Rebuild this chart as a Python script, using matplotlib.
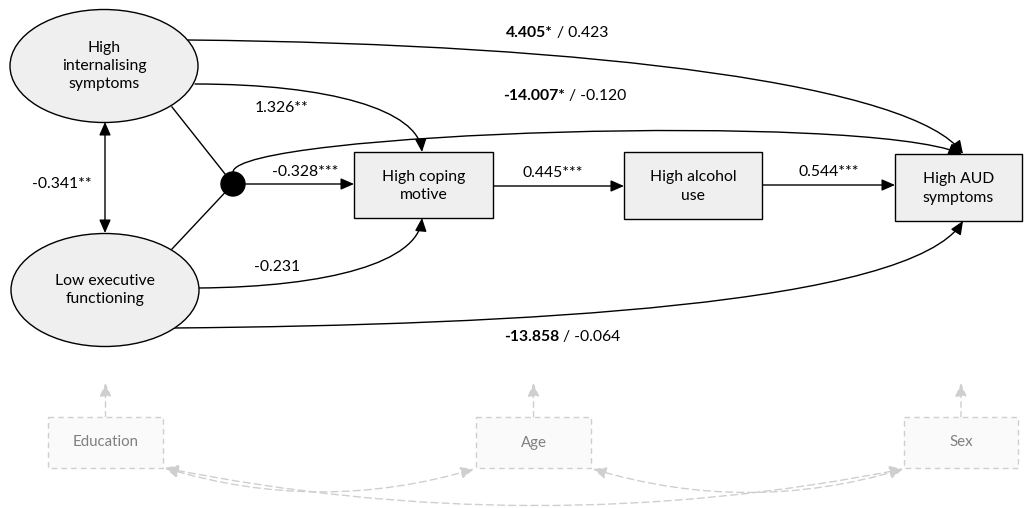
import matplotlib
matplotlib.use("Agg")
import matplotlib.pyplot as plt
from matplotlib.patches import Ellipse, Rectangle, Circle, FancyArrowPatch
from matplotlib.path import Path

plt.rcParams['font.family'] = ['Lato', 'DejaVu Sans']

# Model content
latent_labels = ["High\ninternalising\nsymptoms", "Low executive\nfunctioning"]
observed_labels = ["High coping\nmotive", "High alcohol\nuse", "High AUD\nsymptoms"]
covariate_labels = ["Education", "Age", "Sex"]
latent_cov = "-0.341**"
chain_coefs = ["-0.328***", "0.445***", "0.544***"]
coping_coefs = ["1.326**", "-0.231"]
direct_bold = ["4.405*", "-14.007*", "-13.858"]
direct_std = ["0.423", "-0.120", "-0.064"]

FS = 11.3
FILL = "#EFEFEF"
LW = 1.0
GREY = "#CFCFCF"
GREY_TXT = "#808080"

fig = plt.figure(figsize=(10.25, 5.08), dpi=100)
ax = fig.add_axes([0, 0, 1, 1])
ax.set_xlim(0, 1025)
ax.set_ylim(508, 0)
ax.axis("off")


def arrow(p0, p1, style="-|>", color="black", ls="-", rad=0.0, lw=LW):
    a = FancyArrowPatch(p0, p1, arrowstyle=style + ",head_length=0.8,head_width=0.35",
                        mutation_scale=10, color=color, lw=lw, linestyle=ls,
                        shrinkA=0, shrinkB=0, connectionstyle=f"arc3,rad={rad}")
    ax.add_patch(a)


def bezier_arrow(pts, style="-|>"):
    path = Path(pts, [Path.MOVETO, Path.CURVE4, Path.CURVE4, Path.CURVE4])
    a = FancyArrowPatch(path=path, arrowstyle=style + ",head_length=0.8,head_width=0.35",
                        mutation_scale=10, color="black", lw=LW, shrinkA=0, shrinkB=0)
    ax.add_patch(a)


# Latent factors (ellipses)
ell_centres = [(104, 66), (105, 290)]
for (cx, cy), lab in zip(ell_centres, latent_labels):
    ax.add_patch(Ellipse((cx, cy), 188, 113, facecolor=FILL, edgecolor="black", lw=LW, zorder=2))
    ax.text(cx, cy, lab, ha="center", va="center", fontsize=FS, linespacing=1.4, zorder=3)

# Observed variables (boxes)
boxes = [(354, 152, 139, 66), (624, 152, 138, 67), (895, 154, 127, 67)]
for (x, y, w, h), lab in zip(boxes, observed_labels):
    ax.add_patch(Rectangle((x, y), w, h, facecolor=FILL, edgecolor="black", lw=LW, zorder=2))
    ax.text(x + w / 2, y + h / 2 + 1, lab, ha="center", va="center", fontsize=FS,
            linespacing=1.4, zorder=3)

# Interaction node joining the two latent factors
ax.add_patch(Circle((233, 184), 12, facecolor="black", edgecolor="black", zorder=3))
ax.plot([172, 233], [107, 184], color="black", lw=LW, zorder=1)
ax.plot([172, 233], [249, 184], color="black", lw=LW, zorder=1)

# Covariance between latent factors
arrow((105, 122), (105, 233), style="<|-|>")
ax.text(62, 184, latent_cov, ha="center", va="center", fontsize=FS)

# Main mediation chain
arrow((245, 184), (354, 184))
ax.text(305, 172, chain_coefs[0], ha="center", va="center", fontsize=FS)
arrow((493, 186), (624, 186))
ax.text(553, 173, chain_coefs[1], ha="center", va="center", fontsize=FS)
arrow((762, 185), (895, 185))
ax.text(829, 172, chain_coefs[2], ha="center", va="center", fontsize=FS)

# Paths into coping motive
bezier_arrow([(195, 84), (330, 84), (418, 110), (422, 152)])
ax.text(282, 108, coping_coefs[0], ha="center", va="center", fontsize=FS)
bezier_arrow([(198, 288), (330, 287), (418, 262), (422, 218)])
ax.text(277, 267, coping_coefs[1], ha="center", va="center", fontsize=FS)

# Direct paths to AUD symptoms
bezier_arrow([(188, 40), (600, 44), (915, 86), (963, 154)])
bezier_arrow([(233, 172), (236, 132), (860, 112), (962, 154)])
bezier_arrow([(173, 328), (520, 325), (910, 305), (963, 221)])

direct_pos = [(553, 33), (565, 96), (559, 337)]
for (x, y), b, s in zip(direct_pos, direct_bold, direct_std):
    t = ax.text(x, y, b, ha="right", va="center", fontsize=FS, fontweight="bold")
    ax.annotate(" / " + s, xy=(1, 0), xycoords=t, ha="left", va="bottom", fontsize=FS)

# Covariates (dashed, greyed out)
cov_boxes = [(48, 417, 115, 51), (476, 417, 115, 51), (904, 417, 114, 51)]
for (x, y, w, h), lab in zip(cov_boxes, covariate_labels):
    ax.add_patch(Rectangle((x, y), w, h, facecolor="#FAFAFA", edgecolor=GREY, lw=LW,
                           linestyle=(0, (4, 3)), zorder=2))
    ax.text(x + w / 2, y + h / 2, lab, ha="center", va="center", fontsize=FS - 0.5,
            color=GREY_TXT, zorder=3)
    arrow((x + w / 2, y), (x + w / 2, 383), color=GREY, ls=(0, (4, 3)))

arrow((165, 468), (474, 469), style="<|-|>", color=GREY, ls=(0, (5, 3)), rad=0.15)
arrow((593, 469), (903, 469), style="<|-|>", color=GREY, ls=(0, (5, 3)), rad=0.15)
arrow((165, 468), (903, 469), style="<|-|>", color=GREY, ls=(0, (5, 3)), rad=0.1)

fig.savefig("out.png", dpi=100)
